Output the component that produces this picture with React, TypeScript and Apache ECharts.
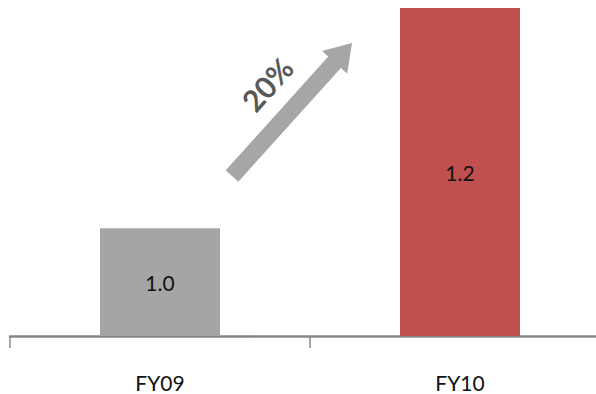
import React, { useEffect, useRef } from "react";
import * as echarts from "echarts";

const categories = ["FY09", "FY10"];
const values = [1.0, 1.2];
const barColors = ["#a5a5a5", "#c0504d"];
const growthLabel = "20%";

function arrowPoints(sx: number, sy: number, tx: number, ty: number, half: number, headLen: number, headHalf: number) {
  const dx = tx - sx, dy = ty - sy;
  const len = Math.sqrt(dx * dx + dy * dy);
  const ux = dx / len, uy = dy / len;
  const nx = -uy, ny = ux;
  const bx = tx - ux * headLen, by = ty - uy * headLen;
  return [
    [sx + nx * half, sy + ny * half],
    [bx + nx * half, by + ny * half],
    [bx + nx * headHalf, by + ny * headHalf],
    [tx, ty],
    [bx - nx * headHalf, by - ny * headHalf],
    [bx - nx * half, by - ny * half],
    [sx - nx * half, sy - ny * half],
  ];
}

export default function App() {
  const ref = useRef<HTMLDivElement>(null);
  useEffect(() => {
    if (!ref.current) return;
    const chart = echarts.init(ref.current, null, { renderer: "svg" });
    chart.setOption({
      animation: false,
      grid: { left: 10, top: 8, right: 10, bottom: 58, containLabel: false },
      xAxis: {
        type: "category",
        data: categories,
        axisLine: { lineStyle: { color: "#888888", width: 2.5 } },
        axisTick: { show: true, length: 12, lineStyle: { color: "#888888", width: 1.5 } },
        axisLabel: { margin: 36, fontSize: 21, color: "#111111", fontFamily: "Lato" },
      },
      yAxis: {
        type: "value",
        min: 0.902,
        max: 1.2,
        show: false,
        splitLine: { show: false },
      },
      series: [
        {
          type: "bar",
          barWidth: 120,
          data: values.map((v, i) => ({ value: v, itemStyle: { color: barColors[i] } })),
          label: {
            show: true,
            position: "inside",
            fontSize: 21,
            color: "#111111",
            fontFamily: "Lato",
            formatter: (p: any) => Number(p.value).toFixed(1),
          },
        },
      ],
      graphic: [
        {
          type: "polygon",
          shape: { points: arrowPoints(232, 176, 352, 43, 8.5, 26, 17) },
          style: { fill: "#a6a6a6" },
        },
        {
          type: "text",
          x: 267,
          y: 84,
          rotation: (48 * Math.PI) / 180,
          style: {
            text: growthLabel,
            fontSize: 30,
            fontWeight: "bold",
            fill: "#595959",
            fontFamily: "Lato",
            align: "center",
            verticalAlign: "middle",
          },
        },
      ],
    });
    return () => chart.dispose();
  }, []);
  return (
    <div style={{ width: 596, height: 394, position: "absolute", left: 0, top: 0, overflow: "hidden" }}>
      <div ref={ref} style={{ width: 620, height: 394 }} />
    </div>
  );
}
